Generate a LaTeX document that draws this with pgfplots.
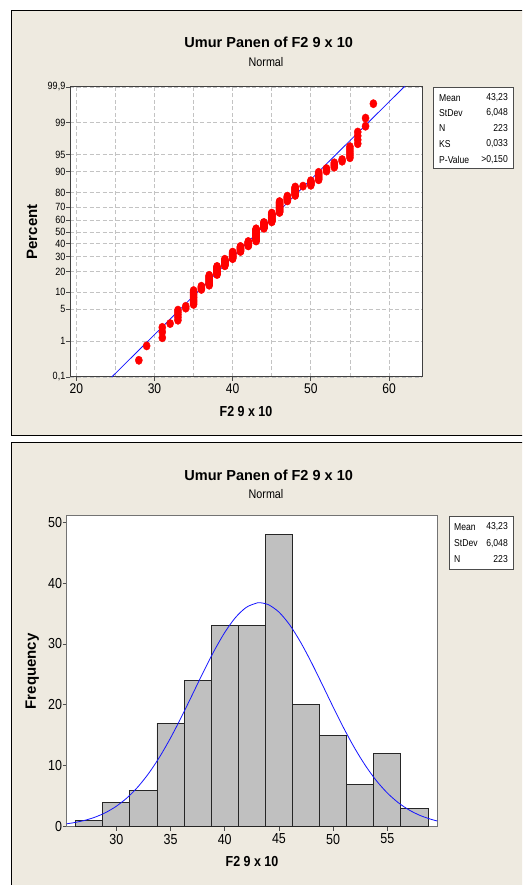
\documentclass[border=0pt]{standalone}
\usepackage{pgfplots}
\pgfplotsset{compat=1.18}
\usepackage{fontspec}
\setmainfont{Liberation Sans}
\newfontfamily\nf{Liberation Sans}
\newfontfamily\cf[FakeStretch=0.86]{Liberation Sans}
\definecolor{panelbg}{RGB}{238,234,224}
\definecolor{gridc}{RGB}{195,195,195}
\definecolor{barc}{RGB}{192,192,192}
\definecolor{mblue}{RGB}{20,20,255}
\newcommand{\fs}[1]{\fontsize{#1}{#1}\selectfont}
\begin{document}
\begin{tikzpicture}
\useasboundingbox (0,0) rectangle (522pt,885pt);
\clip (0,0) rectangle (522pt,885pt);
\fill[white] (0,0) rectangle (522pt,885pt);
% panels
\filldraw[fill=panelbg, draw=black, line width=1pt] (11pt,449pt) rectangle (560pt,874pt);
\filldraw[fill=panelbg, draw=black, line width=1pt] (11pt,-20pt) rectangle (560pt,442pt);

% ---------- top: probability plot ----------
\node[font=\nf\fs{14.5}\bfseries] at (268.7pt,843pt) {Umur Panen of F2 9 x 10};
\node[font=\cf\fs{12.5}] at (266pt,823pt) {Normal};
\begin{axis}[at={(70pt,508pt)}, anchor=south west, scale only axis,
  width=352pt, height=290pt,
  xmin=19.194, xmax=64.22, ymin=-3.0902, ymax=3.0902,
  axis background/.style={fill=white},
  axis line style={draw=black!75, line width=1pt},
  tick pos=left, tick align=outside, major tick length=4pt, minor tick length=0pt,
  tick style={draw=black!70, line width=0.8pt},
  xtick={20,30,40,50,60}, xticklabels={20,30,40,50,60},
  minor xtick={25,35,45,55},
  ytick={-3.0902,-2.3263,-1.6449,-1.2816,-0.8416,-0.5244,-0.2533,0,0.2533,0.5244,0.8416,1.2816,1.6449,2.3263,3.0902},
  yticklabels={{0,1},1,5,10,20,30,40,50,60,70,80,90,95,99,{99,9}},
  xticklabel style={font=\cf\fs{14}, inner sep=1pt, yshift=-2pt},
  yticklabel style={font=\cf\fs{10.5}, inner sep=0.5pt},
  grid=both,
  major grid style={draw=gridc, line width=0.8pt, dash pattern=on 4pt off 2.5pt},
  minor grid style={draw=gridc, line width=0.8pt, dash pattern=on 4pt off 2.5pt},
  xlabel={F2 9 x 10}, ylabel={Percent},
  xlabel style={font=\cf\fs{14.5}\bfseries, at={(axis description cs:0.5,0)}, anchor=center, yshift=-34.7pt},
  ylabel style={font=\nf\fs{15}\bfseries, at={(axis description cs:-0.108,0.5)}, anchor=center},
]
\addplot[mblue, line width=0.8pt] coordinates {(24.5,-3.0969) (62,3.1035)};
\addplot[only marks, mark=*, mark size=4.2pt, mark options={xscale=0.85, fill=red, draw=red}] coordinates {
(28,-2.734) (29,-2.427)
(31,-2.254) (31,-2.131) (31,-2.033)
(32,-1.951)
(33,-1.881) (33,-1.819) (33,-1.763) (33,-1.712) (33,-1.665)
(34,-1.622) (34,-1.582)
(35,-1.544) (35,-1.514) (35,-1.485) (35,-1.455) (35,-1.426) (35,-1.396) (35,-1.366) (35,-1.337) (35,-1.307) (35,-1.278) (35,-1.248)
(36,-1.224) (36,-1.201) (36,-1.178) (36,-1.155)
(37,-1.134) (37,-1.115) (37,-1.096) (37,-1.077) (37,-1.058) (37,-1.039) (37,-1.019) (37,-1.000) (37,-0.981) (37,-0.962) (37,-0.943) (37,-0.924)
(38,-0.907) (38,-0.891) (38,-0.876) (38,-0.860) (38,-0.844) (38,-0.828) (38,-0.813) (38,-0.797) (38,-0.781) (38,-0.765) (38,-0.750) (38,-0.734)
(39,-0.720) (39,-0.706) (39,-0.692) (39,-0.678) (39,-0.664) (39,-0.651) (39,-0.637) (39,-0.623) (39,-0.609) (39,-0.595) (39,-0.581)
(40,-0.568) (40,-0.555) (40,-0.543) (40,-0.530) (40,-0.517) (40,-0.504) (40,-0.492) (40,-0.479) (40,-0.466) (40,-0.453) (40,-0.441) (40,-0.428)
(41,-0.416) (41,-0.404) (41,-0.392) (41,-0.380) (41,-0.368) (41,-0.356) (41,-0.344) (41,-0.332) (41,-0.320) (41,-0.308)
(42,-0.296) (42,-0.284) (42,-0.273) (42,-0.261) (42,-0.249) (42,-0.238) (42,-0.226) (42,-0.215) (42,-0.203)
(43,-0.192) (43,-0.181) (43,-0.169) (43,-0.158) (43,-0.147) (43,-0.136) (43,-0.124) (43,-0.113) (43,-0.102) (43,-0.091) (43,-0.079) (43,-0.068)
(43,-0.057) (43,-0.046) (43,-0.034) (43,-0.023) (43,-0.012) (43,-0.001) (43,0.011) (43,0.022) (43,0.033) (43,0.044) (43,0.056) (43,0.067)
(44,0.079) (44,0.090) (44,0.101) (44,0.113) (44,0.124) (44,0.135) (44,0.147) (44,0.158) (44,0.169) (44,0.180) (44,0.192) (44,0.203)
(45,0.215) (45,0.227) (45,0.238) (45,0.250) (45,0.262) (45,0.274) (45,0.286) (45,0.297) (45,0.309) (45,0.321) (45,0.333) (45,0.344) (45,0.356) (45,0.368) (45,0.380) (45,0.391) (45,0.403)
(46,0.416) (46,0.429) (46,0.442) (46,0.455) (46,0.468) (46,0.481) (46,0.494) (46,0.507) (46,0.519) (46,0.532) (46,0.545) (46,0.558) (46,0.571) (46,0.584) (46,0.597) (46,0.610) (46,0.623) (46,0.636) (46,0.649)
(47,0.663) (47,0.677) (47,0.692) (47,0.706) (47,0.721) (47,0.735) (47,0.749) (47,0.764)
(48,0.779) (48,0.795) (48,0.812) (48,0.828) (48,0.844) (48,0.861) (48,0.877) (48,0.893) (48,0.910) (48,0.926) (48,0.943) (48,0.959)
(49,0.977)
(50,0.995) (50,1.014) (50,1.034) (50,1.053) (50,1.073) (50,1.092)
(51,1.113) (51,1.135) (51,1.158) (51,1.181) (51,1.204) (51,1.226) (51,1.249) (51,1.272)
(52,1.298) (52,1.325) (52,1.352)
(53,1.380) (53,1.411) (53,1.443) (53,1.474)
(54,1.508) (54,1.544)
(55,1.582) (55,1.629) (55,1.677) (55,1.724) (55,1.772) (55,1.819)
(56,1.881) (56,1.964) (56,2.048) (56,2.131)
(57,2.254) (57,2.427)
(58,2.734)
};
\end{axis}
% stats box top
\filldraw[fill=white, draw=black!70, line width=0.8pt] (433pt,717pt) rectangle (513pt,798pt);
\begin{scope}[every node/.style={font=\cf\fs{10}, inner sep=0pt}]
\node[anchor=west] at (439pt,787pt) {Mean};   \node[anchor=east] at (508pt,787pt) {43,23};
\node[anchor=west] at (439pt,772pt) {StDev};  \node[anchor=east] at (508pt,772pt) {6,048};
\node[anchor=west] at (439pt,757pt) {N};      \node[anchor=east] at (508pt,757pt) {223};
\node[anchor=west] at (439pt,741pt) {KS};     \node[anchor=east] at (508pt,741pt) {0,033};
\node[anchor=west] at (439pt,725pt) {P-Value};\node[anchor=east] at (508pt,725pt) {>0,150};
\end{scope}

% ---------- bottom: histogram ----------
\node[font=\nf\fs{14.5}\bfseries] at (268.7pt,410pt) {Umur Panen of F2 9 x 10};
\node[font=\cf\fs{12.5}] at (266pt,391pt) {Normal};
\begin{axis}[at={(66.7pt,58.3pt)}, anchor=south west, scale only axis,
  width=370.6pt, height=310.7pt,
  xmin=25.42, xmax=59.61, ymin=0, ymax=51,
  axis background/.style={fill=white},
  axis line style={draw=black!55, line width=1pt},
  tick pos=left, tick align=outside, major tick length=4pt,
  tick style={draw=black!70, line width=0.8pt},
  xtick={30,35,40,45,50,55}, xticklabels={30,35,40,45,50,55},
  ytick={0,10,20,30,40,50}, yticklabels={0,10,20,30,40,50},
  xticklabel style={font=\cf\fs{14.5}, inner sep=1pt, yshift=-2pt},
  yticklabel style={font=\cf\fs{14.5}, inner sep=0.5pt},
  xlabel={F2 9 x 10}, ylabel={Frequency},
  xlabel style={font=\cf\fs{14.5}\bfseries, at={(axis description cs:0.5,0)}, anchor=center, yshift=-35.3pt},
  ylabel style={font=\nf\fs{15}\bfseries, at={(axis description cs:-0.0931,0.5)}, anchor=center},
]
\addplot[ybar interval, fill=barc, draw=black!85, line width=0.8pt] coordinates {
(26.25,1) (28.75,4) (31.25,6) (33.75,17) (36.25,24) (38.75,33) (41.25,33)
(43.75,48) (46.25,20) (48.75,15) (51.25,7) (53.75,12) (56.25,3) (58.75,3)};
\addplot[mblue, line width=0.8pt, smooth] coordinates {
(25.4,0.477) (26,0.635) (27,1.004) (28,1.544) (29,2.309) (30,3.361) (31,4.759)
(32,6.558) (33,8.795) (34,11.475) (35,14.568) (36,17.996) (37,21.632) (38,25.300)
(39,28.791) (40,31.883) (41,34.353) (42,36.017) (43,36.744) (43.23,36.77) (44,36.473)
(45,35.228) (46,33.109) (47,30.277) (48,26.943) (49,23.328) (50,19.653) (51,16.110)
(52,12.849) (53,9.973) (54,7.531) (55,5.534) (56,3.958) (57,2.754) (58,1.864)
(59,1.227) (59.6,0.944)};
\end{axis}
% stats box bottom
\filldraw[fill=white, draw=black!70, line width=0.8pt] (449pt,316pt) rectangle (513pt,369pt);
\begin{scope}[every node/.style={font=\cf\fs{10}, inner sep=0pt}]
\node[anchor=west] at (454pt,358.3pt) {Mean};  \node[anchor=east] at (508pt,358.3pt) {43,23};
\node[anchor=west] at (454pt,341.7pt) {StDev}; \node[anchor=east] at (508pt,341.7pt) {6,048};
\node[anchor=west] at (454pt,325.7pt) {N};     \node[anchor=east] at (508pt,325.7pt) {223};
\end{scope}
\end{tikzpicture}
\end{document}
